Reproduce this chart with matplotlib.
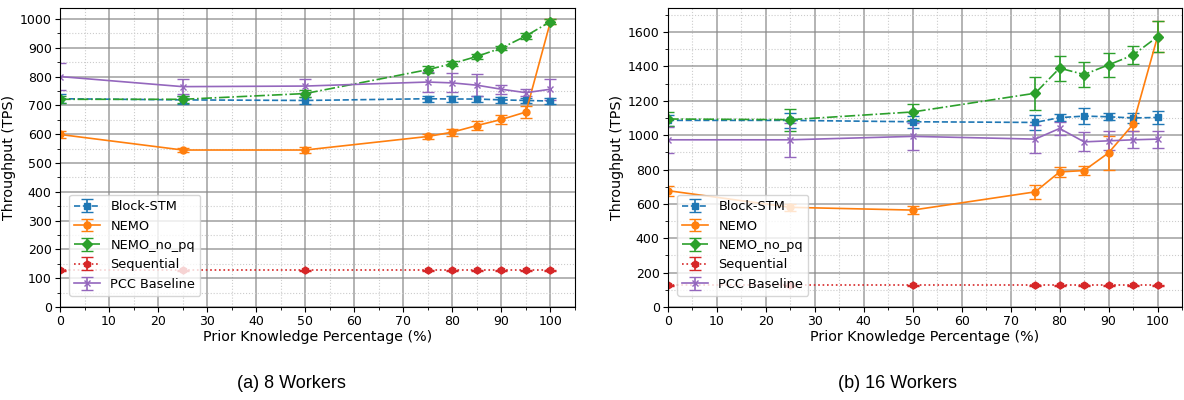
import matplotlib
matplotlib.use("Agg")
import matplotlib.pyplot as plt
from matplotlib.ticker import MultipleLocator

# prior knowledge percentages
pk = [0, 25, 50, 75, 80, 85, 90, 95, 100]

# (a) 8 workers
w8_stm = [723, 719, 717, 723, 722, 722, 719, 717, 715]
w8_stm_err = [15, 15, 12, 10, 10, 10, 10, 10, 12]
w8_nemo = [599, 545, 545, 592, 607, 630, 651, 677, 991]
w8_nemo_err = [12, 8, 10, 10, 12, 14, 16, 22, 8]
w8_nopq = [721, 721, 741, 824, 845, 870, 899, 941, 991]
w8_nopq_err = [12, 12, 12, 12, 10, 10, 8, 10, 8]
w8_seq = [127, 127, 127, 127, 127, 127, 127, 127, 127]
w8_seq_err = [2, 2, 2, 2, 2, 2, 2, 2, 2]
w8_pcc = [800, 765, 767, 781, 778, 770, 756, 744, 756]
w8_pcc_err = [48, 25, 25, 36, 33, 38, 15, 12, 36]

# (b) 16 workers
w16_stm = [1086, 1086, 1078, 1074, 1102, 1111, 1107, 1100, 1103]
w16_stm_err = [30, 45, 35, 45, 20, 45, 20, 30, 40]
w16_nemo = [677, 580, 564, 670, 786, 794, 897, 1063, 1573]
w16_nemo_err = [30, 20, 25, 40, 30, 25, 97, 40, 90]
w16_nopq = [1094, 1090, 1135, 1244, 1390, 1353, 1409, 1466, 1573]
w16_nopq_err = [40, 65, 45, 95, 73, 70, 70, 50, 90]
w16_seq = [126, 126, 126, 126, 126, 126, 126, 126, 126]
w16_seq_err = [3, 3, 3, 3, 3, 3, 3, 3, 3]
w16_pcc = [973, 973, 993, 977, 1039, 961, 967, 973, 977]
w16_pcc_err = [75, 100, 80, 80, 40, 55, 55, 50, 50]

series_style = [
  ("Block-STM", "tab:blue", "--", "s"),
  ("NEMO", "tab:orange", "-", "o"),
  ("NEMO_no_pq", "tab:green", "-.", "D"),
  ("Sequential", "tab:red", ":", "h"),
  ("PCC Baseline", "tab:purple", "-", "x"),
]

def draw_panel(ax, data, ylim, ymajor, yminor):
  for (label, color, ls, mk), (vals, errs) in zip(series_style, data):
    ax.errorbar(pk, vals, yerr=errs, label=label, color=color, linestyle=ls,
                marker=mk, markersize=5, linewidth=1.2, capsize=4,
                elinewidth=1.2)
  ax.set_xlim(0, 105)
  ax.set_ylim(0, ylim)
  ax.xaxis.set_major_locator(MultipleLocator(10))
  ax.xaxis.set_minor_locator(MultipleLocator(5))
  ax.yaxis.set_major_locator(MultipleLocator(ymajor))
  ax.yaxis.set_minor_locator(MultipleLocator(yminor))
  ax.grid(which="major", color="#888888", linestyle="-", linewidth=1.1, alpha=0.8)
  ax.grid(which="minor", color="#cccccc", linestyle=":", linewidth=0.8)
  ax.set_xlabel("Prior Knowledge Percentage (%)", fontsize=10.3, labelpad=1)
  ax.set_ylabel("Throughput (TPS)", fontsize=10.3, labelpad=3)
  ax.tick_params(labelsize=9, pad=2.5)
  ax.legend(loc="lower left", fontsize=9.3, framealpha=0.8,
            bbox_to_anchor=(0.005, 0.015))

fig = plt.figure(figsize=(11.84, 4.0), dpi=100)
ax1 = fig.add_axes([60/1184, 1-307/400, 515/1184, 299/400])
ax2 = fig.add_axes([668/1184, 1-307/400, 514/1184, 299/400])

draw_panel(ax1, [(w8_stm, w8_stm_err), (w8_nemo, w8_nemo_err), (w8_nopq, w8_nopq_err),
                 (w8_seq, w8_seq_err), (w8_pcc, w8_pcc_err)], 1038, 100, 50)
draw_panel(ax2, [(w16_stm, w16_stm_err), (w16_nemo, w16_nemo_err), (w16_nopq, w16_nopq_err),
                 (w16_seq, w16_seq_err), (w16_pcc, w16_pcc_err)], 1740, 200, 100)

fig.text(291/1184, 1-384/400, "(a) 8 Workers", ha="center", va="center",
         fontsize=13, family="Liberation Sans")
fig.text(898/1184, 1-384/400, "(b) 16 Workers", ha="center", va="center",
         fontsize=13, family="Liberation Sans")

fig.savefig("out.png", dpi=100)
